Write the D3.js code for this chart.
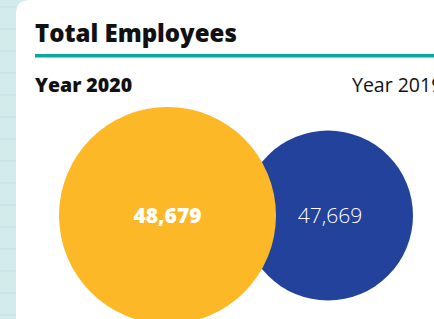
<!DOCTYPE html>
<html>
<head>
<meta charset="utf-8">
<script src="https://cdn.jsdelivr.net/npm/d3@7"></script>
<style>
  html, body { margin: 0; padding: 0; background: #d3ebeb; }
  #chart { width: 434px; height: 319px; overflow: hidden; }
</style>
</head>
<body>
<div id="chart"></div>
<script>
document.addEventListener('DOMContentLoaded', function() {
        // Colors
        const bg_color = "#d3ebeb";
        const teal_color = "#0aa99a";

        // Data
        const title = "Total Employees";
        const years = ["Year 2020", "Year 2019"];
        const employees = [48679, 47669];
        const colors = ["#fdb827", "#22429c"];

        const width = 434;
        const height = 319;
        const font = "'Open Sans', sans-serif";

        const svg = d3.select("#chart")
            .append("svg")
            .attr("width", width)
            .attr("height", height);

        // Background streaks
        svg.append("rect")
            .attr("width", width)
            .attr("height", height)
            .attr("fill", bg_color);

        svg.selectAll(".streak")
            .data(d3.range(6, height, 22))
            .enter().append("rect")
            .attr("x", 0)
            .attr("y", d => d)
            .attr("width", 16)
            .attr("height", 1.5)
            .attr("fill", "#c8e4e4");

        // White card
        svg.append("path")
            .attr("d", "M16,320 L16,14 Q16,0 30,0 L434,0 L434,320 Z")
            .attr("fill", "#ffffff");

        // Title
        svg.append("text")
            .attr("x", 35)
            .attr("y", 42)
            .attr("font-family", font)
            .attr("font-weight", 800)
            .attr("font-size", 24)
            .attr("fill", "#111")
            .text(title);

        svg.append("rect")
            .attr("x", 35)
            .attr("y", 54)
            .attr("width", width - 35)
            .attr("height", 3.5)
            .attr("fill", teal_color);

        // Year labels
        const xLabel = d3.scaleOrdinal().domain(years).range([35, 352]);
        svg.selectAll(".year")
            .data(years)
            .enter().append("text")
            .attr("class", "year")
            .attr("x", d => xLabel(d))
            .attr("y", 92)
            .attr("font-family", font)
            .attr("font-weight", (d, i) => i === 0 ? 800 : 400)
            .attr("font-size", 19.5)
            .attr("fill", "#111")
            .text(d => d);

        // Bubbles
        const rScale = d3.scaleLinear()
            .domain(d3.extent(employees))
            .range([85, 108.5]);
        const xScale = d3.scaleOrdinal().domain(years).range([167.5, 328]);
        const cy = 215.5;

        const nodes = years.map((y, i) => ({ year: y, value: employees[i], color: colors[i] }));

        svg.selectAll(".bubble")
            .data(nodes.slice().reverse())
            .enter().append("circle")
            .attr("class", "bubble")
            .attr("cx", d => xScale(d.year))
            .attr("cy", cy)
            .attr("r", d => rScale(d.value))
            .attr("fill", d => d.color);

        svg.selectAll(".value")
            .data(nodes)
            .enter().append("text")
            .attr("class", "value")
            .attr("x", (d, i) => xScale(d.year) + (i === 0 ? 0 : 2))
            .attr("y", cy + 7.5)
            .attr("text-anchor", "middle")
            .attr("font-family", font)
            .attr("font-weight", (d, i) => i === 0 ? 800 : 300)
            .attr("font-size", 21)
            .attr("fill", "#ffffff")
            .text(d => d3.format(",")(d.value));
});
</script>
</body>
</html>
